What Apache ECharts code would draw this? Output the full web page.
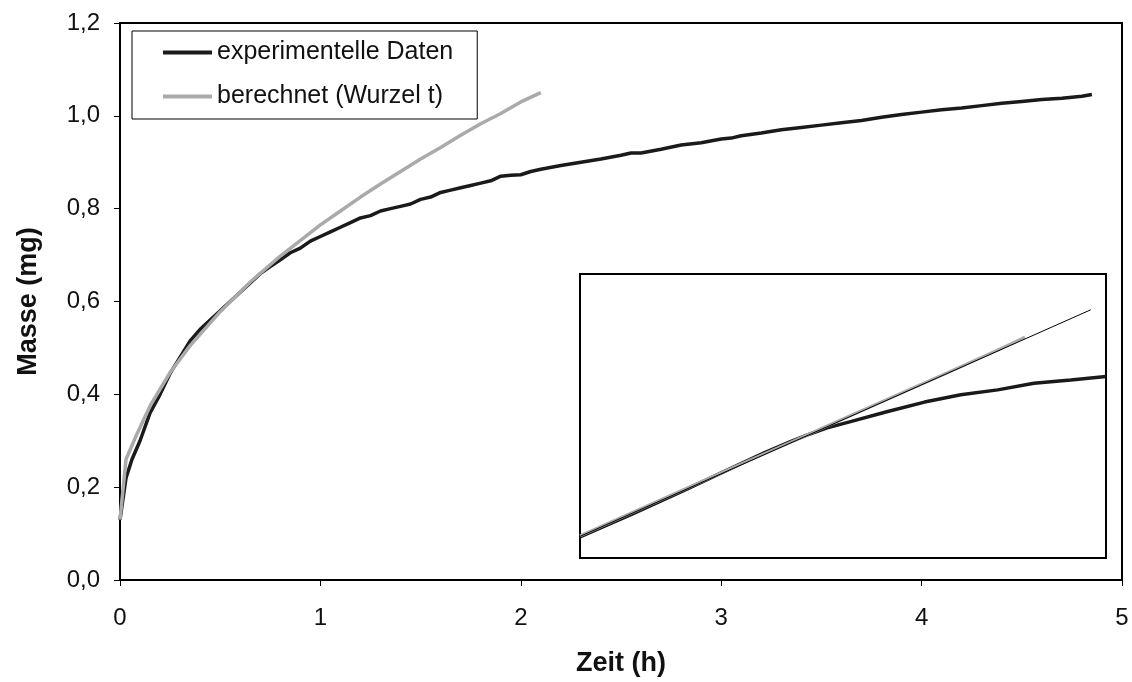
<!DOCTYPE html>
<html><head><meta charset="utf-8">
<script src="https://cdn.jsdelivr.net/npm/echarts@6/dist/echarts.min.js"></script>
<style>html,body{margin:0;padding:0;background:#fff}#c{width:1132px;height:682px}</style>
</head><body><div id="c"></div>
<script>
// Main chart data (Zeit in h, Masse in mg)
const expTime = [0,0.03,0.06,0.1,0.15,0.2,0.25,0.3,0.35,0.4,0.45,0.5,0.55,0.6,0.65,0.7,0.75,0.8,0.85,0.9,0.95,1.0,1.05,1.1,1.15,1.2,1.25,1.3,1.35,1.4,1.45,1.5,1.55,1.6,1.65,1.7,1.75,1.8,1.85,1.9,1.95,2.0,2.05,2.1,2.2,2.3,2.4,2.5,2.55,2.6,2.7,2.8,2.9,3.0,3.05,3.1,3.2,3.3,3.4,3.5,3.6,3.7,3.8,3.9,4.0,4.1,4.2,4.3,4.4,4.5,4.6,4.7,4.8,4.85];
const expMass = [0.13,0.22,0.26,0.30,0.36,0.40,0.445,0.48,0.515,0.54,0.56,0.58,0.60,0.62,0.64,0.66,0.675,0.69,0.705,0.715,0.73,0.74,0.75,0.76,0.77,0.78,0.785,0.795,0.80,0.805,0.81,0.82,0.825,0.835,0.84,0.845,0.85,0.855,0.86,0.87,0.872,0.873,0.88,0.885,0.893,0.90,0.907,0.915,0.92,0.92,0.928,0.937,0.942,0.95,0.952,0.957,0.963,0.97,0.975,0.98,0.985,0.99,0.997,1.003,1.008,1.013,1.017,1.022,1.027,1.031,1.035,1.038,1.042,1.046];
const calcTime = [0,0.03,0.08,0.15,0.25,0.35,0.5,0.65,0.8,1.0,1.1,1.2,1.3,1.4,1.5,1.6,1.7,1.8,1.9,2.0,2.1];
const calcMass = [0.13,0.26,0.31,0.375,0.447,0.505,0.578,0.642,0.698,0.765,0.795,0.825,0.853,0.880,0.907,0.932,0.958,0.983,1.005,1.03,1.05];
const xTicks = [0,1,2,3,4,5];
const yTicks = [0,0.2,0.4,0.6,0.8,1.0,1.2];

// Inset data (relative units, axes hidden)
const insetLineX = [0,0.971];
const insetLineY = [0.076,0.874];
const insetCalcX = [0,0.1,0.2,0.3,0.4,0.5,0.6,0.7,0.8,0.846];
const insetCalcY = [0.078,0.161,0.243,0.326,0.407,0.490,0.572,0.654,0.737,0.778];
const insetExpX = [0,0.1,0.2,0.3,0.35,0.4,0.43,0.47,0.516,0.585,0.655,0.724,0.794,0.863,0.933,1.0];
const insetExpY = [0.074,0.155,0.24,0.327,0.37,0.41,0.432,0.458,0.481,0.516,0.549,0.575,0.592,0.615,0.627,0.639];

const zip = (a,b)=>a.map((v,i)=>[v,b[i]]);
const FONT = 'Liberation Sans, Arial, sans-serif';

const chart = echarts.init(document.getElementById('c'));
chart.setOption({
  animation:false,
  backgroundColor:'#fff',
  grid:[
    {left:120,top:23,right:10,bottom:99,show:true,borderColor:'#000',borderWidth:2,backgroundColor:'transparent'},
    {left:580,top:274,width:526,height:284,show:true,borderColor:'#000',borderWidth:2,backgroundColor:'#fff'}
  ],
  legend:{
    data:['experimentelle Daten','berechnet (Wurzel t)'],
    orient:'vertical',left:132,top:31,
    borderColor:'#000',borderWidth:1,
    padding:[9,24,10,31],
    icon:'rect',
    itemWidth:49,itemHeight:4,itemGap:19,
    textStyle:{fontFamily:FONT,fontSize:25,color:'#111'},
    backgroundColor:'#fff'
  },
  xAxis:[
    {type:'value',gridIndex:0,min:0,max:5,interval:1,
     name:'Zeit (h)',nameLocation:'middle',nameGap:70,
     nameTextStyle:{fontFamily:FONT,fontSize:27,fontWeight:'bold',color:'#111'},
     axisLine:{show:true,lineStyle:{color:'#000',width:2}},
     axisTick:{show:true,inside:false,length:6,lineStyle:{color:'#000',width:1}},
     axisLabel:{fontFamily:FONT,fontSize:24,color:'#111',margin:26,formatter:v=>xTicks.includes(v)?String(v):''},
     splitLine:{show:false}},
    {type:'value',gridIndex:1,min:0,max:1,show:false}
  ],
  yAxis:[
    {type:'value',gridIndex:0,min:0,max:1.2,interval:0.2,
     name:'Masse (mg)',nameLocation:'middle',nameGap:78,
     nameTextStyle:{fontFamily:FONT,fontSize:27,fontWeight:'bold',color:'#111'},
     axisLine:{show:true,lineStyle:{color:'#000',width:2}},
     axisTick:{show:true,inside:false,length:6,lineStyle:{color:'#000',width:1}},
     axisLabel:{fontFamily:FONT,fontSize:24,color:'#111',margin:20,formatter:v=>v.toFixed(1).replace('.',',')},
     splitLine:{show:false}},
    {type:'value',gridIndex:1,min:0,max:1,show:false}
  ],
  series:[
    {name:'experimentelle Daten',type:'line',xAxisIndex:0,yAxisIndex:0,data:zip(expTime,expMass),
     symbol:'none',lineStyle:{color:'#1a1a1a',width:3.5},itemStyle:{color:'#1a1a1a'},z:3},
    {name:'berechnet (Wurzel t)',type:'line',xAxisIndex:0,yAxisIndex:0,data:zip(calcTime,calcMass),
     symbol:'none',lineStyle:{color:'#aaaaaa',width:3.5},itemStyle:{color:'#aaaaaa'},z:4},
    {name:'inset-exp',type:'line',xAxisIndex:1,yAxisIndex:1,data:zip(insetExpX,insetExpY),
     symbol:'none',lineStyle:{color:'#1a1a1a',width:3.5},z:5},
    {name:'inset-calc',type:'line',xAxisIndex:1,yAxisIndex:1,data:zip(insetCalcX,insetCalcY),
     symbol:'none',lineStyle:{color:'#aaaaaa',width:3},z:6},
    {name:'inset-fit',type:'line',xAxisIndex:1,yAxisIndex:1,data:zip(insetLineX,insetLineY),
     symbol:'none',lineStyle:{color:'#000',width:1},z:7}
  ]
});
</script></body></html>
